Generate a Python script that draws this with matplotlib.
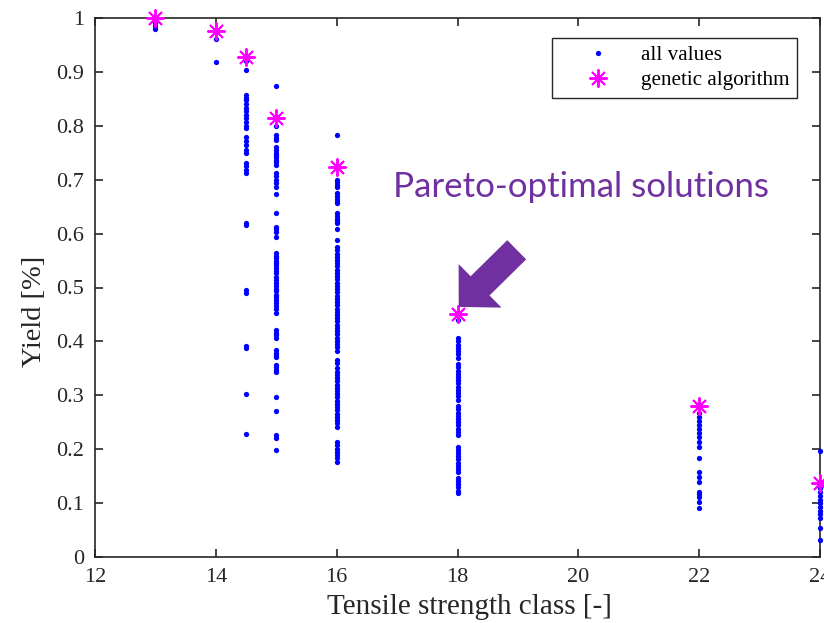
import matplotlib
matplotlib.use("Agg")
import matplotlib.pyplot as plt
from matplotlib.patches import FancyArrowPatch

# Tensile strength classes and the yields found for each one
classes = [13, 14, 14.5, 15, 16, 18, 22, 24]

yield_13 = [0.995, 0.99, 0.985, 0.98]
yield_14 = [0.961, 0.918]
yield_145 = [0.92, 0.903, 0.857, 0.852, 0.847, 0.84, 0.833, 0.828, 0.82, 0.815,
             0.807, 0.80, 0.796, 0.779, 0.772, 0.765, 0.756, 0.749, 0.731, 0.725,
             0.718, 0.712, 0.62, 0.616, 0.495, 0.49, 0.392, 0.388, 0.302, 0.229]
yield_15 = [0.874, 0.80, 0.783, 0.778, 0.774, 0.76, 0.755, 0.75, 0.746, 0.742,
            0.737, 0.732, 0.727, 0.712, 0.706, 0.70, 0.694, 0.687, 0.673, 0.638,
            0.613, 0.608, 0.603, 0.593, 0.564, 0.559, 0.555, 0.55, 0.546, 0.541,
            0.536, 0.531, 0.526, 0.52, 0.514, 0.509, 0.503, 0.498, 0.493, 0.487,
            0.482, 0.477, 0.471, 0.466, 0.46, 0.453, 0.421, 0.416, 0.411, 0.406,
            0.384, 0.379, 0.375, 0.371, 0.356, 0.352, 0.347, 0.343, 0.297, 0.271,
            0.226, 0.221, 0.199]
yield_16 = [0.783, 0.70, 0.695, 0.69, 0.687, 0.675, 0.67, 0.665, 0.66, 0.657,
            0.638, 0.633, 0.628, 0.623, 0.62, 0.608, 0.588, 0.575, 0.569, 0.563,
            0.557, 0.551, 0.545, 0.539, 0.533, 0.527, 0.521, 0.515, 0.509, 0.503,
            0.497, 0.491, 0.485, 0.479, 0.473, 0.467, 0.461, 0.455, 0.449, 0.443,
            0.437, 0.431, 0.425, 0.419, 0.413, 0.407, 0.401, 0.395, 0.389, 0.383,
            0.365, 0.36, 0.35, 0.344, 0.338, 0.332, 0.326, 0.32, 0.314, 0.308,
            0.302, 0.296, 0.29, 0.284, 0.278, 0.272, 0.266, 0.26, 0.254, 0.249,
            0.241, 0.213, 0.207, 0.201, 0.195, 0.189, 0.183, 0.177]
yield_18 = [0.44, 0.406, 0.40, 0.394, 0.388, 0.382, 0.376, 0.37, 0.358, 0.352,
            0.346, 0.34, 0.334, 0.328, 0.322, 0.316, 0.31, 0.304, 0.298, 0.292,
            0.28, 0.274, 0.268, 0.262, 0.256, 0.25, 0.244, 0.238, 0.232, 0.226,
            0.205, 0.199, 0.193, 0.187, 0.181, 0.175, 0.169, 0.163, 0.158, 0.147,
            0.141, 0.135, 0.129, 0.123, 0.118]
yield_22 = [0.267, 0.26, 0.252, 0.245, 0.238, 0.23, 0.223, 0.213, 0.204, 0.184,
            0.158, 0.148, 0.139, 0.121, 0.116, 0.111, 0.102, 0.09]
yield_24 = [0.197, 0.128, 0.12, 0.113, 0.106, 0.1, 0.093, 0.086, 0.079, 0.072,
            0.054, 0.032]

all_yields = [yield_13, yield_14, yield_145, yield_15, yield_16, yield_18,
              yield_22, yield_24]

# Best yield per class from the genetic algorithm
ga_yield = [1.0, 0.975, 0.927, 0.815, 0.723, 0.45, 0.28, 0.137]

xticks = [12, 14, 16, 18, 20, 22, 24]
yticks = [0, 0.1, 0.2, 0.3, 0.4, 0.5, 0.6, 0.7, 0.8, 0.9, 1]
ytick_labels = ['0', '0.1', '0.2', '0.3', '0.4', '0.5', '0.6', '0.7', '0.8', '0.9', '1']

plt.rcParams['font.family'] = ['Liberation Serif', 'DejaVu Serif']

fig = plt.figure(figsize=(8.24, 6.23), dpi=100)
ax = fig.add_axes([95 / 824, 66 / 623, 725 / 824, 539 / 623])

# flatten into x/y pairs for the scatter of all values
xs = []
ys = []
for c, vals in zip(classes, all_yields):
    xs += [c] * len(vals)
    ys += vals

ax.plot(xs, ys, 'o', color='blue', markersize=3.8, markeredgewidth=0,
        linestyle='none', label='all values', clip_on=False, zorder=3)
ax.plot(classes, ga_yield, linestyle='none', marker=(8, 2, 0), markersize=13,
        markeredgewidth=1.4, color='magenta', label='genetic algorithm',
        clip_on=False, zorder=4)

ax.set_xlim(12, 24)
ax.set_ylim(0, 1)
ax.set_xticks(xticks)
ax.set_yticks(yticks)
ax.set_yticklabels(ytick_labels)
ax.tick_params(direction='in', length=6, width=1.2, labelsize=16,
               top=True, right=True, colors='#262626', pad=8)
for s in ax.spines.values():
    s.set_linewidth(1.2)
    s.set_color('#262626')

ax.set_xlabel('Tensile strength class [-]', fontsize=21, color='#262626')
ax.set_ylabel('Yield [%]', fontsize=20.5, color='#262626')
ax.xaxis.set_label_coords(0.517, -0.069)
ax.yaxis.set_label_coords(-0.066, 0.455)

leg = ax.legend(loc='upper right', bbox_to_anchor=(0.968, 0.963), borderaxespad=0,
                fontsize=15.2, fancybox=False, edgecolor='#262626', framealpha=1,
                handlelength=3.6, handletextpad=0.25, borderpad=0.35,
                labelspacing=0.25)
leg.get_frame().set_linewidth(1.0)

# annotation pointing at the Pareto front
ax.text(16.93, 0.668, 'Pareto-optimal solutions', fontsize=25.1, family='Lato',
        color='#7030A0', ha='left', va='baseline')
arrow = FancyArrowPatch((18.98, 0.57), (18.02, 0.464),
                        arrowstyle='simple,head_length=21.6,head_width=44,tail_width=19.4',
                        mutation_scale=1, shrinkA=0, shrinkB=0,
                        color='#7030A0', linewidth=0, zorder=5)
ax.add_patch(arrow)

fig.savefig('out.png', dpi=100)
